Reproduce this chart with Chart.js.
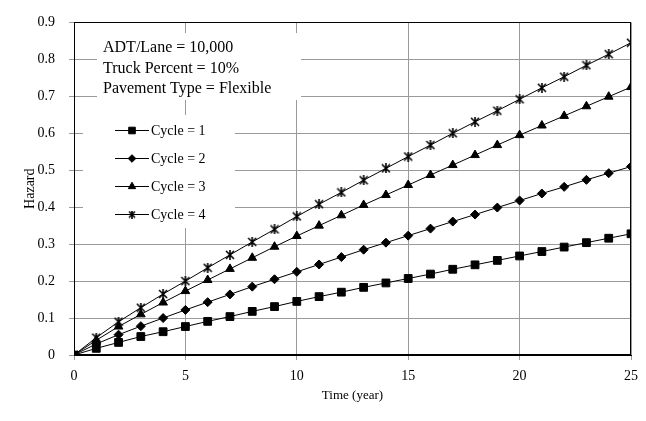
<!DOCTYPE html>
<html>
<head>
<meta charset="utf-8">
<script src="https://cdn.jsdelivr.net/npm/chart.js@4/dist/chart.umd.min.js"></script>
<style>
  html, body { margin: 0; padding: 0; background: #fff; }
  #wrap { width: 646px; height: 421px; }
</style>
</head>
<body>
<div id="wrap"><canvas id="myChart" width="646" height="421"></canvas></div>
<script>
const years = [0, 1, 2, 3, 4, 5, 6, 7, 8, 9, 10, 11, 12, 13, 14, 15, 16, 17, 18, 19, 20, 21, 22, 23, 24, 25];

const cycle1 = [0, 0.018, 0.034, 0.050, 0.063, 0.077, 0.091, 0.104, 0.118, 0.131, 0.145, 0.158, 0.170,
	0.183, 0.195, 0.207, 0.219, 0.232, 0.244, 0.256, 0.268, 0.280, 0.292, 0.304, 0.316, 0.328];
const cycle2 = [0, 0.030, 0.055, 0.078, 0.100, 0.122, 0.143, 0.164, 0.185, 0.205, 0.225, 0.245, 0.265,
	0.285, 0.304, 0.323, 0.342, 0.361, 0.380, 0.399, 0.418, 0.437, 0.455, 0.474, 0.492, 0.510];
const cycle3 = [0, 0.040, 0.077, 0.110, 0.142, 0.173, 0.203, 0.233, 0.263, 0.293, 0.322, 0.350, 0.378,
	0.406, 0.433, 0.460, 0.487, 0.514, 0.541, 0.568, 0.595, 0.621, 0.647, 0.673, 0.699, 0.725];
const cycle4 = [0, 0.047, 0.090, 0.128, 0.165, 0.200, 0.236, 0.271, 0.306, 0.340, 0.375, 0.408, 0.440,
	0.473, 0.505, 0.537, 0.568, 0.600, 0.631, 0.661, 0.692, 0.723, 0.753, 0.784, 0.814, 0.845];

const seriesLabels = ['Cycle = 1', 'Cycle = 2', 'Cycle = 3', 'Cycle = 4'];
const noteLines = ['ADT/Lane = 10,000', 'Truck Percent = 10%', 'Pavement Type = Flexible'];

const serif = '"Liberation Serif", "DejaVu Serif", serif';

// excel style star marker: an X with a vertical bar
function makeStar(n) {
	const c = document.createElement('canvas');
	c.width = n;
	c.height = n;
	const g = c.getContext('2d');
	g.strokeStyle = '#000';
	g.lineWidth = 1.6;
	g.beginPath();
	g.moveTo(1, 1); g.lineTo(n - 1, n - 1);
	g.moveTo(n - 1, 1); g.lineTo(1, n - 1);
	g.moveTo(n / 2, 0); g.lineTo(n / 2, n);
	g.stroke();
	return c;
}
const starImg = makeStar(10);
const starSmall = makeStar(8);

function pts(values) {
	return years.map((y, i) => ({ x: y, y: values[i] }));
}

function ds(label, values, style, radius) {
	return {
		label: label,
		data: pts(values),
		borderColor: '#000',
		backgroundColor: '#000',
		borderWidth: 1,
		pointStyle: style,
		pointRadius: radius,
		pointBorderWidth: 1,
		pointBorderColor: '#000',
		pointBackgroundColor: '#000',
		tension: 0,
	};
}

const boxes = {
	id: 'boxes',
	beforeDatasetsDraw(chart) {
		const ctx = chart.ctx;
		ctx.save();
		ctx.fillStyle = '#fff';
		ctx.fillRect(97, 33, 204, 67);
		ctx.fillRect(83, 115, 152, 113);
		ctx.restore();
	},
	afterDatasetsDraw(chart) {
		const ctx = chart.ctx;
		const a = chart.chartArea;
		ctx.save();
		ctx.strokeStyle = '#000';
		ctx.lineWidth = 1;
		ctx.strokeRect(Math.round(a.left) + 0.5, Math.round(a.top) + 0.5,
			Math.round(a.right - a.left) - 1, Math.round(a.bottom - a.top) - 1);

		ctx.fillStyle = '#000';
		ctx.textBaseline = 'middle';
		ctx.font = '16px ' + serif;
		noteLines.forEach((t, i) => ctx.fillText(t, 103, 48 + i * 20.5));

		ctx.font = '14px ' + serif;
		chart.data.datasets.forEach((d, i) => {
			const y = 130 + i * 28;
			ctx.beginPath();
			ctx.moveTo(115, y + 0.5);
			ctx.lineTo(149, y + 0.5);
			ctx.stroke();
			const style = i === 3 ? starSmall : d.pointStyle;
			if (Chart.helpers && Chart.helpers.drawPoint) {
				Chart.helpers.drawPoint(ctx, {
					pointStyle: style, radius: d.pointRadius * 0.85, rotation: 0, borderWidth: 1
				}, 132, y + 0.5);
			}
			ctx.fillText(d.label, 151, y + 1);
		});
		ctx.restore();
	}
};

const config = {
	type: 'line',
	data: {
		datasets: [
			ds(seriesLabels[0], cycle1, 'rect', 5.5),
			ds(seriesLabels[1], cycle2, 'rectRot', 4.5),
			ds(seriesLabels[2], cycle3, 'triangle', 5),
			ds(seriesLabels[3], cycle4, starImg, 5),
		]
	},
	plugins: [boxes],
	options: {
		responsive: false,
		animation: false,
		layout: { padding: { top: 20, right: 13, left: 0, bottom: 0 } },
		plugins: {
			legend: { display: false },
			tooltip: { enabled: false },
		},
		scales: {
			x: {
				type: 'linear',
				min: 0,
				max: 25,
				afterFit(scale) { scale.height = 66; },
				ticks: { stepSize: 5, color: '#000', padding: 8, font: { family: serif, size: 14 } },
				grid: { color: '#9a9a9a', tickLength: 5, drawTicks: true },
				border: { color: '#000' },
				title: {
					display: true,
					text: 'Time (year)',
					color: '#000',
					font: { family: serif, size: 13 },
					padding: { top: 0, bottom: 18 },
				},
			},
			y: {
				min: 0,
				max: 0.9,
				afterFit(scale) { scale.width = 74; },
				ticks: {
					stepSize: 0.1,
					color: '#000',
					padding: 14,
					font: { family: serif, size: 14 },
					callback: (v) => String(+v.toFixed(1)),
				},
				grid: { color: '#9a9a9a', tickLength: 5 },
				border: { color: '#000' },
				title: {
					display: true,
					text: 'Hazard',
					color: '#000',
					font: { family: serif, size: 14 },
					padding: { top: 22, bottom: 0 },
				},
			},
		},
	},
};

var myChart = new Chart(document.getElementById('myChart'), config);
</script>
</body>
</html>
